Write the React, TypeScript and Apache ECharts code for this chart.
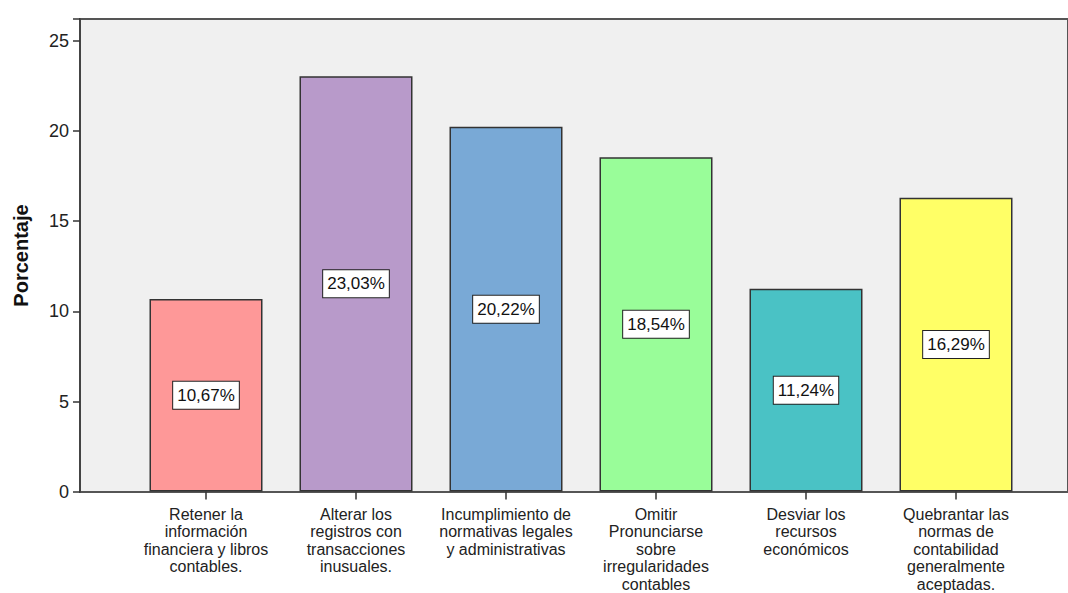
import React, { useEffect, useRef } from "react";
import * as echarts from "echarts";

const categories = [
  "Retener la\ninformación\nfinanciera y libros\ncontables.",
  "Alterar los\nregistros con\ntransacciones\ninusuales.",
  "Incumplimiento de\nnormativas legales\ny administrativas",
  "Omitir\nPronunciarse\nsobre\nirregularidades\ncontables",
  "Desviar los\nrecursos\neconómicos",
  "Quebrantar las\nnormas de\ncontabilidad\ngeneralmente\naceptadas.",
];
const values = [10.67, 23.03, 20.22, 18.54, 11.24, 16.29];
const colors = ["#fe9898", "#b89aca", "#79a9d6", "#99fd99", "#4ac2c5", "#ffff66"];
const yTicks = [0, 5, 10, 15, 20, 25];

const FONT = "'Liberation Sans', Arial, sans-serif";

export default function App() {
  const ref = useRef<HTMLDivElement>(null);
  useEffect(() => {
    if (!ref.current) return;
    const chart = echarts.init(ref.current, null, { renderer: "svg" });
    chart.setOption({
      animation: false,
      textStyle: { fontFamily: FONT },
      grid: [
        {
          left: 80,
          top: 19,
          width: 1010,
          height: 473,
          show: true,
          backgroundColor: "#f0f0f0",
          borderColor: "#555",
          borderWidth: 2,
        },
        { left: 131, top: 19, width: 900, height: 473 },
      ],
      xAxis: [
        { gridIndex: 0, type: "value", min: 0, max: 1, show: false },
        {
          gridIndex: 1,
          type: "category",
          data: categories,
          axisLine: { show: false },
          axisTick: {
            show: true,
            alignWithLabel: true,
            length: 8,
            lineStyle: { color: "#333", width: 1.5 },
          },
          axisLabel: {
            fontSize: 16,
            lineHeight: 17.5,
            color: "#222",
            margin: 14,
            interval: 0,
            fontFamily: FONT,
          },
        },
      ],
      yAxis: [
        {
          gridIndex: 0,
          type: "value",
          min: 0,
          max: 26.2,
          interval: 5,
          axisLine: { show: true, lineStyle: { color: "#444", width: 2 } },
          axisTick: { show: true, length: 7, lineStyle: { color: "#333", width: 1.5 } },
          axisLabel: {
            fontSize: 18,
            color: "#222",
            margin: 11,
            fontFamily: FONT,
            formatter: (v: number) => (yTicks.includes(v) ? String(v) : ""),
          },
          splitLine: { show: false },
          name: "Porcentaje",
          nameLocation: "middle",
          nameGap: 49,
          nameRotate: 90,
          nameTextStyle: { fontSize: 20, fontWeight: "bold", color: "#111", fontFamily: FONT },
        },
        { gridIndex: 1, type: "value", min: 0, max: 26.2, show: false },
      ],
      series: [
        {
          type: "bar",
          xAxisIndex: 1,
          yAxisIndex: 1,
          barWidth: 113,
          data: values.map((v, i) => ({ value: v, itemStyle: { color: colors[i] } })),
          itemStyle: { borderColor: "#333", borderWidth: 1.5 },
          label: {
            show: true,
            position: "inside",
            formatter: (p: any) => p.value.toFixed(2).replace(".", ",") + "%",
            backgroundColor: "#fff",
            borderColor: "#222",
            borderWidth: 1,
            padding: [6, 4, 4, 4],
            color: "#111",
            fontSize: 17,
            fontFamily: FONT,
          },
        },
      ],
    });
    return () => chart.dispose();
  }, []);
  return (
    <div
      ref={ref}
      style={{ position: "absolute", left: 0, top: 0, width: 1068, height: 593 }}
    />
  );
}
